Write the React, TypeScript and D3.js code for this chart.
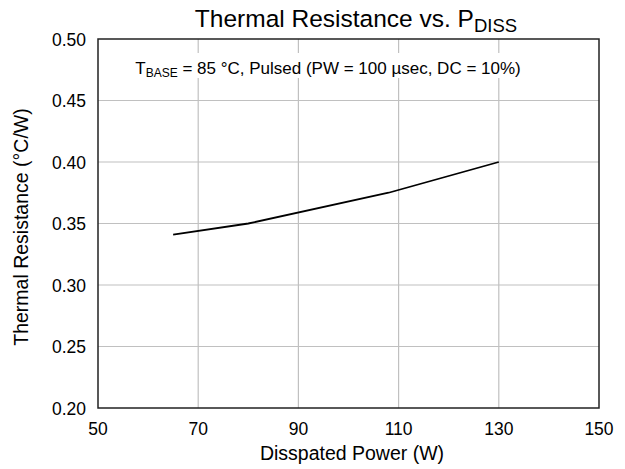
import React from "react";
import * as d3 from "d3";

const powerW = [65, 80, 108, 130];
const resistance = [0.341, 0.35, 0.375, 0.4];
const xTicks = [50, 70, 90, 110, 130, 150];
const yTicks = [0.2, 0.25, 0.3, 0.35, 0.4, 0.45, 0.5];

const W = 625, H = 469;
const m = { left: 98, right: 599, top: 39, bottom: 408 };
const font = "Liberation Sans, Arial, sans-serif";

export default function App() {
  const x = d3.scaleLinear().domain([50, 150]).range([m.left, m.right]);
  const y = d3.scaleLinear().domain([0.2, 0.5]).range([m.bottom, m.top]);
  const data = powerW.map((p, i) => [p, resistance[i]] as [number, number]);
  const line = d3.line<[number, number]>().x(d => x(d[0])).y(d => y(d[1]));
  return (
    <svg width={W} height={H} style={{ position: "absolute", left: 0, top: 0 }} fontFamily={font}>
      <rect width={W} height={H} fill="#fff" />
      {xTicks.slice(1, -1).map(t => (
        <line key={"gx" + t} x1={x(t)} x2={x(t)} y1={m.top} y2={m.bottom} stroke="#c0c0c0" strokeWidth={1.2} />
      ))}
      {yTicks.slice(1, -1).map(t => (
        <line key={"gy" + t} x1={m.left} x2={m.right} y1={y(t)} y2={y(t)} stroke="#c0c0c0" strokeWidth={1.2} />
      ))}
      <rect x={m.left} y={m.top} width={m.right - m.left} height={m.bottom - m.top} fill="none" stroke="#222" strokeWidth={1.5} />
      <rect x={128} y={53} width={402} height={25} fill="#fff" />
      <text x={328} y={74} fontSize={17} textAnchor="middle" fill="#000">
        T<tspan fontSize={12} dy={3}>BASE</tspan><tspan dy={-3}> = 85 °C, Pulsed (PW = 100 µsec, DC = 10%)</tspan>
      </text>
      <path d={line(data) || ""} fill="none" stroke="#000" strokeWidth={1.8} />
      {xTicks.map(t => (
        <text key={"tx" + t} x={x(t)} y={m.bottom + 27} fontSize={17.5} textAnchor="middle" fill="#000">{t}</text>
      ))}
      {yTicks.map(t => (
        <text key={"ty" + t} x={m.left - 12} y={y(t) + 6.5} fontSize={17.5} textAnchor="end" fill="#000">{t.toFixed(2)}</text>
      ))}
      <text x={352} y={460} fontSize={19.5} textAnchor="middle" fill="#000">Disspated Power (W)</text>
      <text transform={`translate(28, 227) rotate(-90)`} fontSize={19.5} textAnchor="middle" fill="#000">Thermal Resistance (°C/W)</text>
      <text x={356} y={27} fontSize={24.5} textAnchor="middle" fill="#000">
        Thermal Resistance vs. P<tspan fontSize={18.5} dy={5}>DISS</tspan>
      </text>
    </svg>
  );
}
